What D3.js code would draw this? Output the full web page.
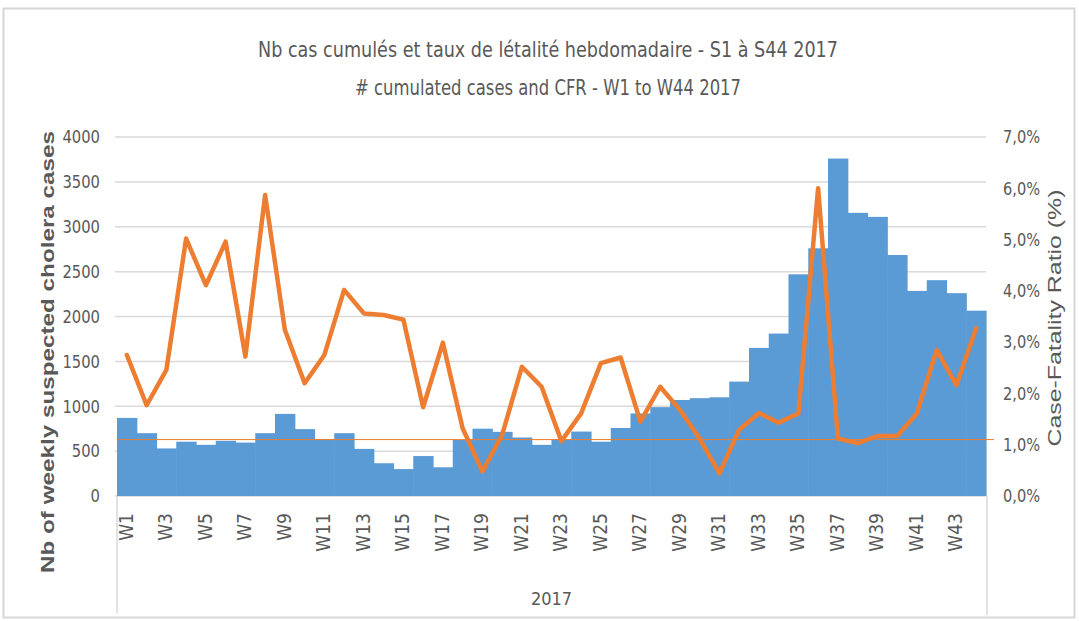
<!DOCTYPE html>
<html>
<head>
<meta charset="utf-8">
<script src="https://cdn.jsdelivr.net/npm/d3@7"></script>
<style>
  body { margin: 0; background: #fff; }
  text { font-family: "Liberation Sans Narrow", "DejaVu Sans Condensed", "Liberation Sans", sans-serif; fill: #595959; }
</style>
</head>
<body>
<div id="my_dataviz"></div>
<script>
// weekly data, W1 to W44 2017
var weeks = d3.range(1, 45).map(function(i) { return "W" + i; });
var cases = [870, 700, 530, 605, 570, 615, 595, 700, 915, 745, 635, 700, 525, 365, 300,
             445, 320, 625, 750, 715, 652, 570, 630, 718, 605, 758, 920, 990, 1070, 1090,
             1100, 1275, 1650, 1810, 2470, 2760, 3760, 3155, 3110, 2685, 2285, 2405, 2260, 2065];
var cfr = [2.75, 1.77, 2.46, 5.02, 4.11, 4.96, 2.72, 5.87, 3.24, 2.20, 2.75, 4.02, 3.56, 3.53, 3.44,
           1.73, 2.99, 1.32, 0.48, 1.19, 2.52, 2.13, 1.07, 1.61, 2.59, 2.70, 1.45, 2.13, 1.68, 1.12,
           0.44, 1.29, 1.62, 1.43, 1.61, 6.00, 1.12, 1.03, 1.17, 1.17, 1.61, 2.85, 2.16, 3.27];
var cfrRef = 1.1;
var leftTicks = [0, 500, 1000, 1500, 2000, 2500, 3000, 3500, 4000];
var rightTicks = [0, 1, 2, 3, 4, 5, 6, 7];
var title1 = "Nb cas cumulés et taux de létalité hebdomadaire - S1 à S44 2017";
var title2 = "# cumulated cases and CFR - W1 to W44 2017";
var yearLabel = "2017";

var W = 1079, H = 621;
var x0 = 117, x1 = 986, yTop = 137, yBot = 496;

var svg = d3.select("#my_dataviz").append("svg")
    .attr("width", W).attr("height", H);

// chart frame
svg.append("rect")
    .attr("x", 3.5).attr("y", 8.5).attr("width", 1071).attr("height", 609)
    .attr("fill", "#fff").attr("stroke", "#d6d6d6").attr("stroke-width", 2);

var x = d3.scaleBand().domain(weeks).range([x0, x1]).padding(0);
var yL = d3.scaleLinear().domain([0, 4000]).range([yBot, yTop]);
var yR = d3.scaleLinear().domain([0, 7]).range([yBot, yTop]);

// gridlines
svg.append("g").selectAll("line")
    .data(leftTicks)
    .enter().append("line")
        .attr("x1", x0 - 2).attr("x2", x1)
        .attr("y1", function(d) { return yL(d); })
        .attr("y2", function(d) { return yL(d); })
        .attr("stroke", "#d9d9d9").attr("stroke-width", 1.5);

// bars
svg.append("g").selectAll("rect")
    .data(cases)
    .enter().append("rect")
        .attr("x", function(d, i) { return x(weeks[i]); })
        .attr("y", function(d) { return yL(d); })
        .attr("width", x.bandwidth() + 0.6)
        .attr("height", function(d) { return yL(0) - yL(d); })
        .attr("fill", "#5b9bd5");

// 1% reference line
svg.append("line")
    .attr("x1", x0).attr("x2", x1 + 8)
    .attr("y1", yR(cfrRef)).attr("y2", yR(cfrRef))
    .attr("stroke", "#ed7d31").attr("stroke-width", 1);

// CFR line
var line = d3.line()
    .x(function(d, i) { return x(weeks[i]) + x.bandwidth() / 2; })
    .y(function(d) { return yR(d); });
svg.append("path")
    .datum(cfr)
    .attr("d", line)
    .attr("fill", "none")
    .attr("stroke", "#ed7d31")
    .attr("stroke-width", 4.5)
    .attr("stroke-linejoin", "round")
    .attr("stroke-linecap", "round");

// left axis labels (narrow, like Calibri)
var yAxisL = d3.axisLeft(yL).tickValues(leftTicks).tickSize(0).tickPadding(0)
    .tickFormat(d3.format("d"));
var gL = svg.append("g").attr("transform", "translate(100,0)").call(yAxisL);
gL.select(".domain").remove();
gL.selectAll("text")
    .style("font-size", "18px").attr("fill", "#595959")
    .attr("textLength", function(d) { return String(d).length * 9.4; })
    .attr("lengthAdjust", "spacingAndGlyphs");

// right axis labels
var yAxisR = d3.axisRight(yR).tickValues(rightTicks).tickSize(0).tickPadding(0)
    .tickFormat(function(d) { return d3.format(".1f")(d).replace(".", ",") + "%"; });
var gR = svg.append("g").attr("transform", "translate(1003,0)").call(yAxisR);
gR.select(".domain").remove();
gR.selectAll("text")
    .style("font-size", "18px").attr("fill", "#595959")
    .attr("textLength", 37).attr("lengthAdjust", "spacingAndGlyphs");

// x axis: category group borders
svg.append("line").attr("x1", x0).attr("x2", x0).attr("y1", yBot).attr("y2", 613)
    .attr("stroke", "#d9d9d9").attr("stroke-width", 1.5);
svg.append("line").attr("x1", x1 + 1).attr("x2", x1 + 1).attr("y1", yBot).attr("y2", 615)
    .attr("stroke", "#d9d9d9").attr("stroke-width", 1.5);

// week labels (every second week)
svg.append("g").selectAll("text")
    .data(weeks.filter(function(d, i) { return i % 2 == 0; }))
    .enter().append("text")
        .attr("transform", function(d) {
            return "translate(" + (x(d) + x.bandwidth() / 2 + 6) + ",513) rotate(-90)";
        })
        .attr("text-anchor", "end")
        .style("font-size", "19px")
        .text(function(d) { return d; });

svg.append("text")
    .attr("x", (x0 + x1) / 2).attr("y", 605)
    .attr("text-anchor", "middle")
    .style("font-size", "18px")
    .text(yearLabel);

// titles
svg.append("text")
    .attr("x", 548).attr("y", 57)
    .attr("text-anchor", "middle")
    .attr("textLength", 580).attr("lengthAdjust", "spacingAndGlyphs")
    .style("font-size", "21px")
    .text(title1);
svg.append("text")
    .attr("x", 548).attr("y", 95)
    .attr("text-anchor", "middle")
    .attr("textLength", 386).attr("lengthAdjust", "spacingAndGlyphs")
    .style("font-size", "21px")
    .text(title2);

// axis titles
svg.append("text")
    .attr("transform", "translate(54,352) rotate(-90)")
    .attr("text-anchor", "middle")
    .attr("textLength", 442).attr("lengthAdjust", "spacingAndGlyphs")
    .style("font-size", "19px").style("font-weight", "bold")
    .style("font-family", "'Liberation Sans', sans-serif")
    .text("Nb of weekly suspected cholera cases");
svg.append("text")
    .attr("transform", "translate(1061,318) rotate(-90)")
    .attr("text-anchor", "middle")
    .attr("textLength", 257).attr("lengthAdjust", "spacingAndGlyphs")
    .style("font-size", "19px")
    .style("font-family", "'Liberation Sans', sans-serif")
    .text("Case-Fatality Ratio (%)");
</script>
</body>
</html>
